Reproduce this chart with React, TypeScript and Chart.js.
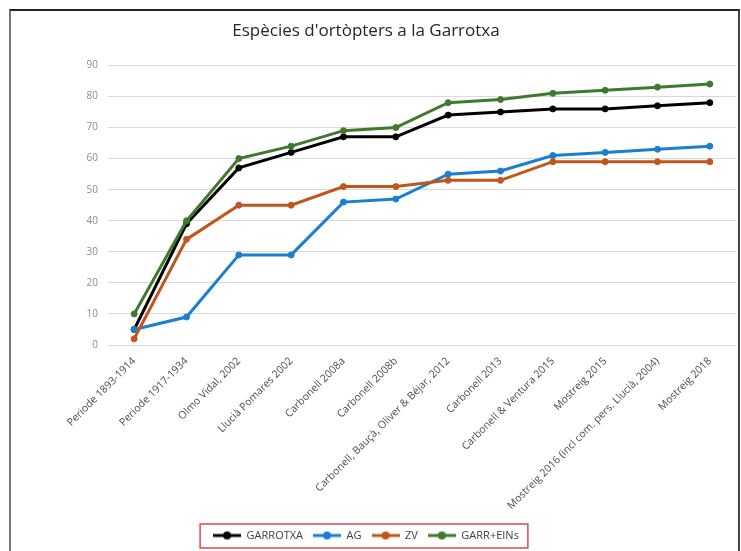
import React, { useEffect, useRef } from "react";
import { Chart, registerables } from "chart.js";

Chart.register(...registerables);

const categories = [
  "Periode 1893-1914",
  "Periode 1917-1934",
  "Olmo Vidal, 2002",
  "Llucià Pomares 2002",
  "Carbonell 2008a",
  "Carbonell 2008b",
  "Carbonell, Bauçà, Oliver & Béjar, 2012",
  "Carbonell 2013",
  "Carbonell & Ventura 2015",
  "Mostreig 2015",
  "Mostreig 2016 (incl com. pers. Llucià, 2004)",
  "Mostreig 2018",
];

const garrotxa = [5, 39, 57, 62, 67, 67, 74, 75, 76, 76, 77, 78];
const ag = [5, 9, 29, 29, 46, 47, 55, 56, 61, 62, 63, 64];
const zv = [2, 34, 45, 45, 51, 51, 53, 53, 59, 59, 59, 59];
const garrEins = [10, 40, 60, 64, 69, 70, 78, 79, 81, 82, 83, 84];

const seriesNames = ["GARROTXA", "AG", "ZV", "GARR+EINs"];
const seriesColors = ["#000000", "#1a7fd0", "#c0561b", "#3f7a2c"];
const yTicks = { min: 0, max: 90, step: 10 };

const FONT = "'Open Sans', Lato, sans-serif";

function legendIcon(color: string): HTMLCanvasElement {
  const c = document.createElement("canvas");
  c.width = 28;
  c.height = 10;
  const ctx = c.getContext("2d")!;
  ctx.strokeStyle = color;
  ctx.lineWidth = 3;
  ctx.beginPath();
  ctx.moveTo(0, 5);
  ctx.lineTo(28, 5);
  ctx.stroke();
  ctx.fillStyle = color;
  ctx.beginPath();
  ctx.arc(14, 5, 4, 0, Math.PI * 2);
  ctx.fill();
  return c;
}

// shift title and legend slightly left, as in the original (centred on the frame)
const shiftPlugin = {
  id: "shiftBlocks",
  afterLayout(chart: any) {
    const dx = -7;
    for (const b of [chart.legend, chart.titleBlock]) {
      if (b) {
        b.left += dx;
        b.right += dx;
      }
    }
  },
};

const legendBoxPlugin = {
  id: "legendBox",
  afterDraw(chart: any) {
    const lg = chart.legend;
    if (!lg || !lg.legendHitBoxes || !lg.legendHitBoxes.length) return;
    const boxes = lg.legendHitBoxes;
    let l = Infinity, r = -Infinity, t = Infinity, b = -Infinity;
    for (const h of boxes) {
      l = Math.min(l, h.left);
      r = Math.max(r, h.left + h.width);
      t = Math.min(t, h.top);
      b = Math.max(b, h.top + h.height);
    }
    const ctx = chart.ctx;
    ctx.save();
    ctx.strokeStyle = "#e0474c";
    ctx.lineWidth = 1.5;
    ctx.strokeRect(l - 13, t - 6, r - l + 22, b - t + 13);
    ctx.restore();
  },
};

export default function App() {
  const ref = useRef<HTMLCanvasElement | null>(null);

  useEffect(() => {
    if (!ref.current) return;
    const data = [garrotxa, ag, zv, garrEins];
    const chart = new Chart(ref.current, {
      type: "line",
      data: {
        labels: categories,
        datasets: data.map((d, i) => ({
          label: seriesNames[i],
          data: d,
          borderColor: seriesColors[i],
          backgroundColor: seriesColors[i],
          pointBackgroundColor: seriesColors[i],
          pointBorderColor: seriesColors[i],
          pointStyle: "circle",
          borderWidth: 3,
          pointRadius: 3,
          pointBorderWidth: 1,
          tension: 0,
          order: 3 - i,
        })),
      },
      options: {
        animation: false,
        responsive: true,
        maintainAspectRatio: false,
        layout: { padding: { left: 10, right: 5, top: 0, bottom: 0 } },
        plugins: {
          title: {
            display: true,
            text: "Espècies d'ortòpters a la Garrotxa",
            color: "#262626",
            font: { family: FONT, size: 17, weight: "normal" },
            padding: { top: 21, bottom: 24 },
          },
          legend: {
            position: "bottom",
            labels: {
              usePointStyle: true,
              pointStyleWidth: 28,
              boxHeight: 10,
              color: "#404040",
              font: { family: FONT, size: 11 },
              padding: 10,
              generateLabels: (ch: any) =>
                ch.data.datasets.map((ds: any, i: number) => ({
                  text: ds.label,
                  fillStyle: seriesColors[i],
                  strokeStyle: seriesColors[i],
                  fontColor: "#404040",
                  lineWidth: 0,
                  pointStyle: legendIcon(seriesColors[i]),
                  datasetIndex: i,
                  hidden: false,
                })),
            },
          },
          tooltip: { enabled: false },
        },
        scales: {
          x: {
            offset: true,
            grid: { display: false },
            border: { display: false },
            ticks: {
              autoSkip: false,
              maxRotation: 45,
              minRotation: 45,
              color: "#4d4d4d",
              font: { family: FONT, size: 10.5 },
              padding: 2,
            },
            afterFit: (s: any) => {
              s.height = 175;
            },
          },
          y: {
            min: yTicks.min,
            max: yTicks.max,
            ticks: {
              stepSize: yTicks.step,
              color: "#8c8c8c",
              font: { family: FONT, size: 10 },
              padding: 10,
            },
            grid: { color: "#d9d9d9", drawTicks: false, lineWidth: 1 },
            border: { display: false },
            afterFit: (s: any) => {
              s.width = 98;
            },
          },
        },
      },
      plugins: [shiftPlugin, legendBoxPlugin],
    } as any);
    return () => chart.destroy();
  }, []);

  return (
    <div
      style={{
        position: "fixed",
        left: 0,
        top: 0,
        width: 741,
        height: 551,
        background: "#fff",
        overflow: "hidden",
      }}
    >
      <div
        style={{
          position: "absolute",
          left: 9,
          top: 9,
          width: 727,
          height: 560,
          borderTop: "2px solid #222",
          borderLeft: "2px solid #777",
          borderRight: "2px solid #444",
          pointerEvents: "none",
        }}
      />
      <canvas ref={ref} style={{ position: "absolute", left: 0, top: 0, width: 741, height: 551 }} />
    </div>
  );
}
